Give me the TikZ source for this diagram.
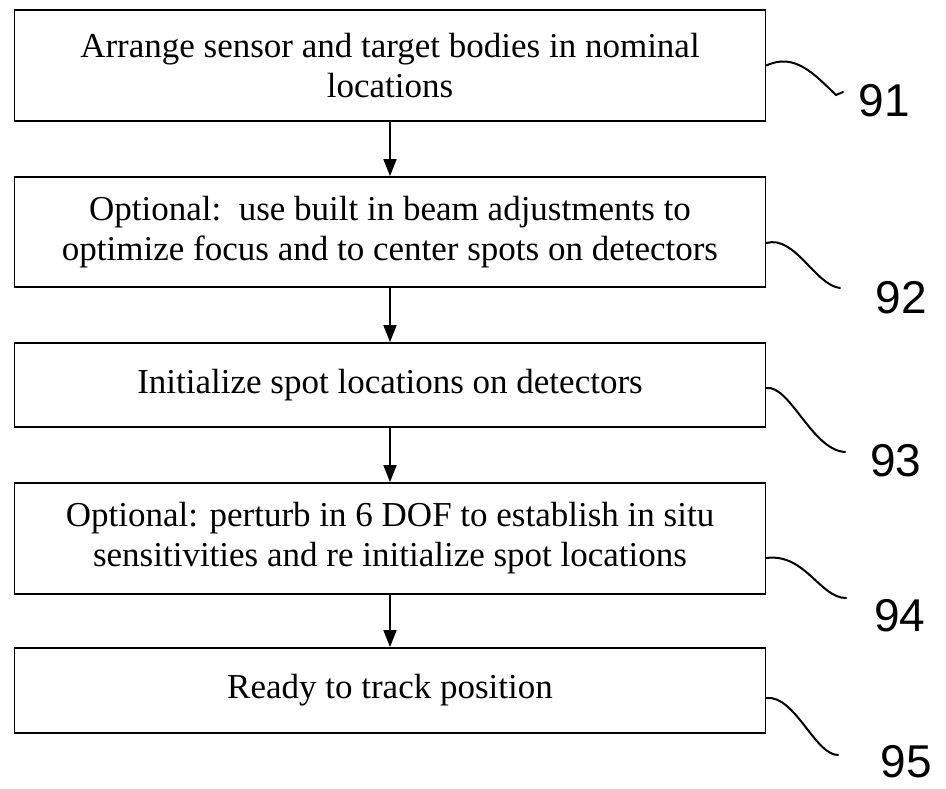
\documentclass[tikz,border=0pt]{standalone}
\usepackage{fontspec}
\setmainfont{Liberation Serif}
\newfontfamily\refnumfont{Liberation Sans}
\usetikzlibrary{arrows.meta,calc}
\tikzset{
  stepbox/.style={draw, line width=1.8pt, minimum width=751pt, inner sep=0pt,
    align=center, font=\fontsize{35}{40}\selectfont},
  flow/.style={line width=1.6pt, -{Triangle[length=17pt,width=13pt]}},
  leader/.style={line width=2pt, line cap=round},
  refnum/.style={font=\refnumfont\fontsize{46}{46}\selectfont, inner sep=0pt}
}
\begin{document}
\begin{tikzpicture}[x=1pt,y=-1pt]
\useasboundingbox (0,0) rectangle (946,789);

% process steps
\node[stepbox, minimum height=111pt] (b1) at (390,65.5)
  {Arrange sensor and target bodies in nominal\\locations};
\node[stepbox, minimum height=110pt] (b2) at (390,232)
  {Optional:\ \ use built in beam adjustments to\\optimize focus and to center spots on detectors};
\node[stepbox, minimum height=84pt] (b3) at (390,385)
  {Initialize spot locations on detectors};
\node[stepbox, minimum height=111pt] (b4) at (390,538.5)
  {Optional: perturb in 6 DOF to establish in situ\\sensitivities and re initialize spot locations};
\node[stepbox, minimum height=85pt] (b5) at (390,690.5)
  {Ready to track position};

% flow arrows
\draw[flow] (b1) -- (b2);
\draw[flow] (b2) -- (b3);
\draw[flow] (b3) -- (b4);
\draw[flow] (b4) -- (b5);

% reference numerals
\node[refnum] (n91) at (884,101) {91};
\node[refnum] (n92) at (901,298) {92};
\node[refnum] (n93) at (896,461) {93};
\node[refnum] (n94) at (900,616) {94};
\node[refnum] (n95) at (906,762) {95};

% leader line ends
\coordinate (e91) at (843,92);
\coordinate (e92) at (840,288);
\coordinate (e93) at (845,452);
\coordinate (e94) at (846,598);
\coordinate (e95) at (838,755);

% leader lines
\draw[leader] (b1.east) .. controls (795,52) and (815,75) .. (836,95) -- (e91);
\draw[leader] ([yshift=-11pt]b2.east) .. controls (795,235) and (815,285) .. (e92);
\draw[leader] ([yshift=-3pt]b3.east) .. controls (790,385) and (812,450) .. (e93);
\draw[leader] ([yshift=-19.5pt]b4.east) .. controls (805,553) and (820,598) .. (e94);
\draw[leader] ([yshift=-7.5pt]b5.east) .. controls (795,695) and (815,755) .. (e95);
\end{tikzpicture}
\end{document}
